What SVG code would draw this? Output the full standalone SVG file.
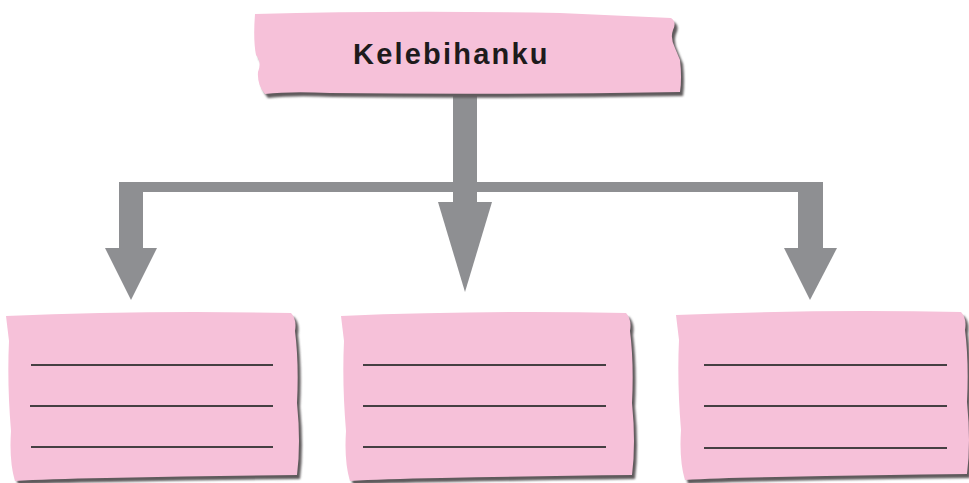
<svg xmlns="http://www.w3.org/2000/svg" width="969" height="483" viewBox="0 0 969 483">
<defs>
<filter id="blur" x="-5%" y="-5%" width="110%" height="110%"><feGaussianBlur stdDeviation="1.2"/></filter>
<style>
.card{fill:#F6C1D9;}
.shadow{fill:#5e5a5c;filter:url(#blur);}
.conn{fill:#8E8F92;}
.rule{stroke:#454043;stroke-width:1.8;fill:none;}
.title{font-family:"Liberation Sans",Arial,sans-serif;font-weight:bold;font-size:29px;letter-spacing:2.2px;fill:#1d1b1c;}
</style>
<path id="topShape" d="M255,14 Q400,10 560,13 L671,18 Q677,22 673,30 Q670,38 675,48 L680,60 Q682,78 680,92 Q500,95 330,93 Q290,91 265,94 Q257,85 258,72 Q262,62 256,55 Q253,40 255,14 Z"/>
<path id="boxShape" d="M0,3 Q140,-3 285,0 Q291,6 289,18 Q293,50 291,90 Q295,130 291,162 Q200,163 100,165 Q40,166 9,168 Q3,148 5,118 Q1,70 3,28 Z"/>
</defs>
<g id="connectors">
<rect class="conn" x="453" y="96" width="24" height="108"/>
<polygon class="conn" points="438,202 492,202 465,292"/>
<rect class="conn" x="119" y="182" width="704" height="10"/>
<rect class="conn" x="119" y="182" width="24" height="68"/>
<polygon class="conn" points="105,248 157,248 131,300"/>
<rect class="conn" x="798" y="182" width="25" height="68"/>
<polygon class="conn" points="784,248 837,248 810,300"/>
</g>
<g id="node-top">
<use href="#topShape" class="shadow" transform="translate(3,4)"/>
<use href="#topShape" class="card"/>
<text class="title" x="353" y="64">Kelebihanku</text>
</g>
<g id="node-1" transform="translate(6,313)">
<use href="#boxShape" class="shadow" transform="translate(3,4)"/>
<use href="#boxShape" class="card"/>
<line class="rule" x1="25" y1="52" x2="267" y2="52"/>
<line class="rule" x1="24" y1="93" x2="267" y2="93"/>
<line class="rule" x1="25" y1="134" x2="267" y2="134"/>
</g>
<g id="node-2" transform="translate(341,313)">
<use href="#boxShape" class="shadow" transform="translate(3,4)"/>
<use href="#boxShape" class="card"/>
<line class="rule" x1="22" y1="52" x2="265" y2="52"/>
<line class="rule" x1="22" y1="93" x2="265" y2="93"/>
<line class="rule" x1="22" y1="134" x2="265" y2="134"/>
</g>
<g id="node-3" transform="translate(676,312)">
<use href="#boxShape" class="shadow" transform="translate(3,4)"/>
<use href="#boxShape" class="card"/>
<line class="rule" x1="28" y1="53" x2="271" y2="53"/>
<line class="rule" x1="28" y1="94" x2="271" y2="94"/>
<line class="rule" x1="28" y1="136" x2="271" y2="136"/>
</g>
</svg>
